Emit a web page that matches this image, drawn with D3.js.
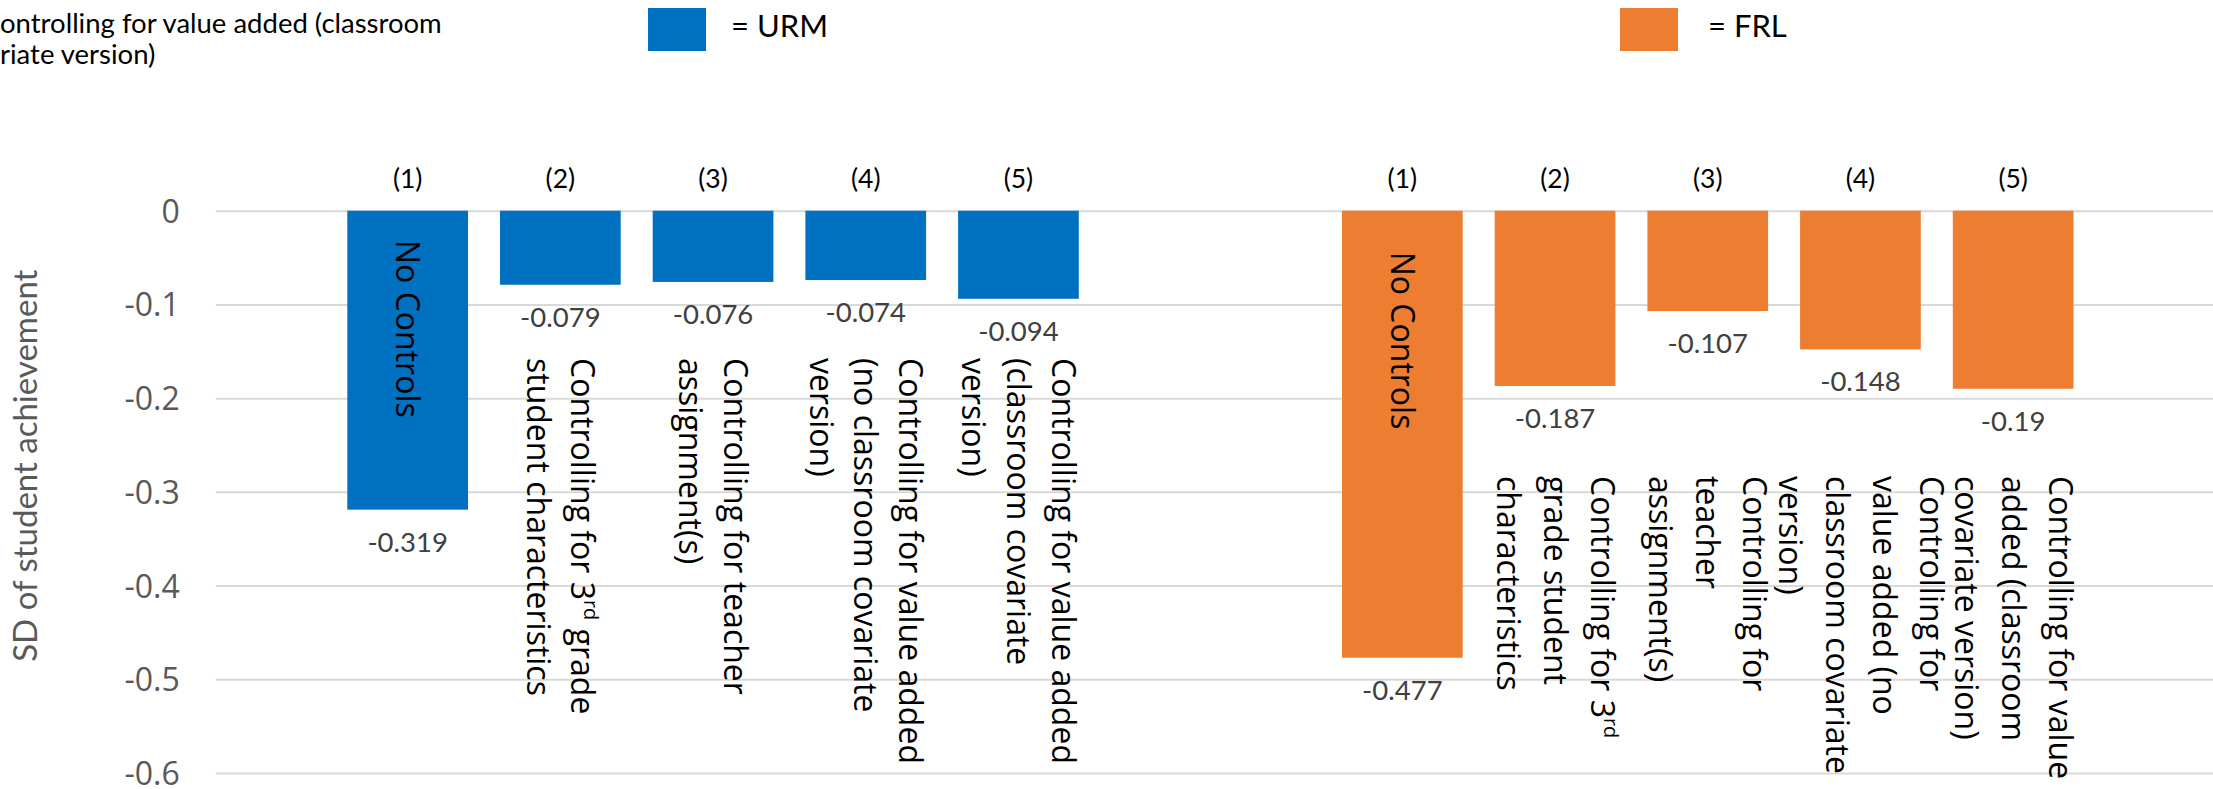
<!DOCTYPE html>
<html>
<head>
<meta charset="utf-8">
<script src="https://cdn.jsdelivr.net/npm/d3@7"></script>
<style>
  html, body { margin: 0; padding: 0; background: #ffffff; }
  svg { display: block; }
</style>
</head>
<body>
<script>
// ---- Data -------------------------------------------------------------
const columns = ["(1)", "(2)", "(3)", "(4)", "(5)"];

const urmValues = [-0.319, -0.079, -0.076, -0.074, -0.094];
const frlValues = [-0.477, -0.187, -0.107, -0.148, -0.19];

// Category descriptions, one array of lines per column; {..} marks superscript
const urmLabels = [
  ["No Controls"],
  ["Controlling for 3{rd} grade", "student characteristics"],
  ["Controlling for teacher", "assignment(s)"],
  ["Controlling for value added", "(no classroom covariate", "version)"],
  ["Controlling for value added", "(classroom covariate", "version)"]
];
const frlLabels = [
  ["No Controls"],
  ["Controlling for 3{rd}", "grade student", "characteristics"],
  ["Controlling for", "teacher", "assignment(s)"],
  ["Controlling for", "value added (no", "classroom covariate", "version)"],
  ["Controlling for value", "added (classroom", "covariate version)"]
];

const yTicks = [0, -0.1, -0.2, -0.3, -0.4, -0.5, -0.6];
const yTickLabels = ["0", "-0.1", "-0.2", "-0.3", "-0.4", "-0.5", "-0.6"];

const yTitle = "SD of student achievement";
const headerLines = ["ontrolling for value added (classroom", "riate version)"];

// ---- Layout ------------------------------------------------------------
const W = 2213, H = 789;
const plotLeft = 215.7;
const CAT_FONT = 32;       // rotated category text
const catFamily = "'Open Sans', 'Noto Sans', sans-serif";
const calFamily = "Lato, 'Open Sans', sans-serif";

const groups = [
  { name: "URM", values: urmValues, labels: urmLabels, color: "#0070C0",
    range: [331.3, 1094.8], labelTop: 358, lineHeight: 44.6, innerTop: 240,
    legendX: 648, legendTextX: 731 },
  { name: "FRL", values: frlValues, labels: frlLabels, color: "#ED7D31",
    range: [1326, 2089.5], labelTop: 476, lineHeight: 47, innerTop: 251.7,
    legendX: 1620, legendTextX: 1708 }
];

const svg = d3.select("body").append("svg")
  .attr("width", W).attr("height", H)
  .attr("viewBox", `0 0 ${W} ${H}`);

const y = d3.scaleLinear().domain([-0.6, 0]).range([773, 210.7]);

// ---- Gridlines and y-axis ----------------------------------------------
const yAxis = svg.append("g")
  .attr("transform", `translate(${plotLeft},0)`)
  .call(d3.axisLeft(y)
    .tickValues(yTicks)
    .tickSize(-(W - plotLeft))
    .tickPadding(36)
    .tickFormat((d, i) => yTickLabels[i]));
yAxis.select(".domain").remove();
yAxis.selectAll(".tick line").attr("stroke", "#D9D9D9").attr("stroke-width", 2);
yAxis.selectAll(".tick text")
  .attr("dy", "0.357em")
  .attr("fill", "#595959")
  .style("font-family", catFamily)
  .style("font-size", "32px");

svg.append("text")
  .attr("transform", "translate(36.5,465.7) rotate(-90)")
  .attr("text-anchor", "middle")
  .attr("fill", "#595959")
  .style("font-family", calFamily)
  .style("font-size", "33px")
  .text(yTitle);

// ---- Header remnant at top-left ---------------------------------------
svg.append("g").selectAll("text")
  .data(headerLines)
  .join("text")
  .attr("x", 0)
  .attr("y", (d, i) => 33.3 + i * 31)
  .attr("fill", "#000000")
  .style("font-family", calFamily)
  .style("font-size", "27.5px")
  .text(d => d);

// helper: write a line with {sup} segments into a text element
function writeLine(textSel, line) {
  const parts = line.split(/(\{[^}]*\})/).filter(s => s.length);
  parts.forEach(p => {
    if (p.startsWith("{")) {
      textSel.append("tspan")
        .attr("baseline-shift", "super")
        .style("font-size", "62%")
        .text(p.slice(1, -1));
    } else {
      textSel.append("tspan").text(p);
    }
  });
}

// ---- Bars per group ----------------------------------------------------
groups.forEach(g => {
  const x = d3.scaleBand()
    .domain(columns)
    .range(g.range)
    .paddingInner(0.2096)
    .paddingOuter(0.1048);
  const bw = x.bandwidth();
  const data = columns.map((c, i) => ({ col: c, value: g.values[i], lines: g.labels[i], i }));
  const layer = svg.append("g").attr("class", "group-" + g.name);

  // bars
  layer.selectAll("rect.bar")
    .data(data)
    .join("rect")
    .attr("class", "bar")
    .attr("x", d => x(d.col))
    .attr("y", d => y(0))
    .attr("width", bw)
    .attr("height", d => y(d.value) - y(0))
    .attr("fill", g.color);

  // column numbers above bars
  layer.selectAll("text.col")
    .data(data)
    .join("text")
    .attr("class", "col")
    .attr("x", d => x(d.col) + bw / 2)
    .attr("y", 188.3)
    .attr("text-anchor", "middle")
    .attr("fill", "#000000")
    .style("font-family", calFamily)
    .style("font-size", "26.5px")
    .text(d => d.col);

  // value labels below bars
  layer.selectAll("text.val")
    .data(data)
    .join("text")
    .attr("class", "val")
    .attr("x", d => x(d.col) + bw / 2)
    .attr("y", d => y(d.value) + 42)
    .attr("text-anchor", "middle")
    .attr("fill", "#404040")
    .style("font-family", calFamily)
    .style("font-size", "27.5px")
    .text(d => String(d.value));

  // rotated category text
  data.forEach(d => {
    const cx = x(d.col) + bw / 2;
    const n = d.lines.length;
    const top = d.i === 0 ? g.innerTop : g.labelTop;
    d.lines.forEach((line, li) => {
      const bx = cx + ((n - 1) / 2 - li) * g.lineHeight - 0.357 * CAT_FONT;
      const t = layer.append("text")
        .attr("transform", `translate(${bx},${top}) rotate(90)`)
        .attr("text-anchor", "start")
        .attr("fill", "#000000")
        .style("font-family", catFamily)
        .style("font-size", CAT_FONT + "px");
      writeLine(t, line);
    });
  });

  // legend
  svg.append("rect")
    .attr("x", g.legendX).attr("y", 8)
    .attr("width", 58).attr("height", 43)
    .attr("fill", g.color);
  svg.append("text")
    .attr("x", g.legendTextX).attr("y", 37.3)
    .attr("fill", "#000000")
    .style("font-family", calFamily)
    .style("font-size", "31px")
    .text("= " + g.name);
});
</script>
</body>
</html>
